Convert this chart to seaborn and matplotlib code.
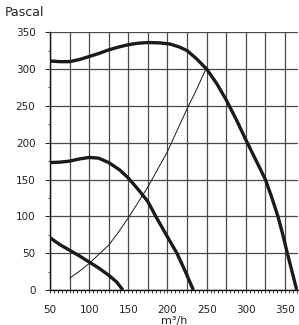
#!/usr/bin/env python3
"""Fan curves (pressure vs. airflow) with a system curve, drawn with seaborn."""

import matplotlib
matplotlib.use("Agg")
import matplotlib.pyplot as plt
import numpy as np
import pandas as pd
import seaborn as sns

# Fan curve, top speed (m3/h, Pa)
high_q = [50, 62, 75, 88, 100, 112, 125, 138, 150, 162, 175, 190, 203, 215, 225,
          237, 250, 263, 275, 288, 300, 313, 325, 333, 341, 347, 353, 359, 365]
high_p = [311, 310, 310, 313, 317, 321, 326, 330, 333, 335, 336, 335.5, 334, 330, 325,
          314, 300, 280, 258, 231, 204, 176, 150, 126, 100, 76, 50, 25, 0]

# Fan curve, middle speed
mid_q = [50, 62, 75, 88, 100, 112, 125, 139, 150, 163, 175, 185, 200, 212, 222, 233]
mid_p = [173, 173.5, 175, 178, 180, 179, 173, 163, 152, 136, 120, 100, 72, 50, 27, 0]

# Fan curve, low speed
low_q = [50, 62, 75, 88, 100, 112, 125, 135, 143]
low_p = [71, 62, 54, 46, 38, 30, 20, 11, 0]

# System curve
sys_q = [75, 87, 100, 112, 125, 137, 150, 162, 175, 187, 200, 212, 225, 237, 249]
sys_p = [16, 25, 36, 48, 61, 78, 98, 118, 140, 163, 188, 216, 246, 272, 300]

x_labels = [50, 100, 150, 200, 250, 300, 350]
y_labels = [0, 50, 100, 150, 200, 250, 300, 350]

sns.set_style("white")
plt.rcParams["font.family"] = ["Liberation Sans Narrow", "DejaVu Sans"]

fig = plt.figure(figsize=(2.99, 3.25), dpi=100)
ax = fig.add_axes([50 / 299, 35 / 325, 248.3 / 299, 257.8 / 325])

curves = [(high_q, high_p, 2.4), (mid_q, mid_p, 2.4), (low_q, low_p, 2.4),
          (sys_q, sys_p, 0.7)]
for q, p, lw in curves:
    df = pd.DataFrame({"q": q, "p": p})
    sns.lineplot(data=df, x="q", y="p", ax=ax, sort=False, estimator=None,
                 color="#1a1a1a", linewidth=lw, zorder=3,
                 solid_joinstyle="round", solid_capstyle="butt")

ax.set_xlim(50, 367)
ax.set_ylim(0, 350)

# grid every 25 m3/h on x, every 50 Pa on y
ax.set_xticks(np.arange(50, 351, 25))
ax.set_xticklabels([str(v) if v in x_labels else "" for v in range(50, 351, 25)])
ax.set_xticks(np.arange(50, 366, 5), minor=True)
ax.set_yticks(y_labels)
ax.set_yticks(np.arange(25, 350, 50), minor=True)
ax.grid(True, which="major", color="#4a4a4a", linewidth=0.9)

ax.tick_params(axis="x", which="both", direction="out", length=2.5, width=0.6,
               colors="#222222", labelsize=7.5, pad=8, bottom=True)
ax.tick_params(axis="y", which="major", direction="out", length=3.5, width=0.7,
               colors="#222222", labelsize=7.5, pad=7, left=True)
ax.tick_params(axis="y", which="minor", direction="out", length=1.8, width=0.6,
               left=True)

for side in ("top", "right"):
    ax.spines[side].set_visible(False)
for side in ("left", "bottom"):
    ax.spines[side].set_color("#111111")
    ax.spines[side].set_linewidth(1.0)

ax.set_xlabel("m³/h", fontsize=8, color="#222222", labelpad=1)
ax.set_ylabel("")
fig.text(5 / 299, 1 - 12 / 325, "Pascal", fontsize=9, color="#222222",
         ha="left", va="center")

fig.savefig("out.png", dpi=100)
